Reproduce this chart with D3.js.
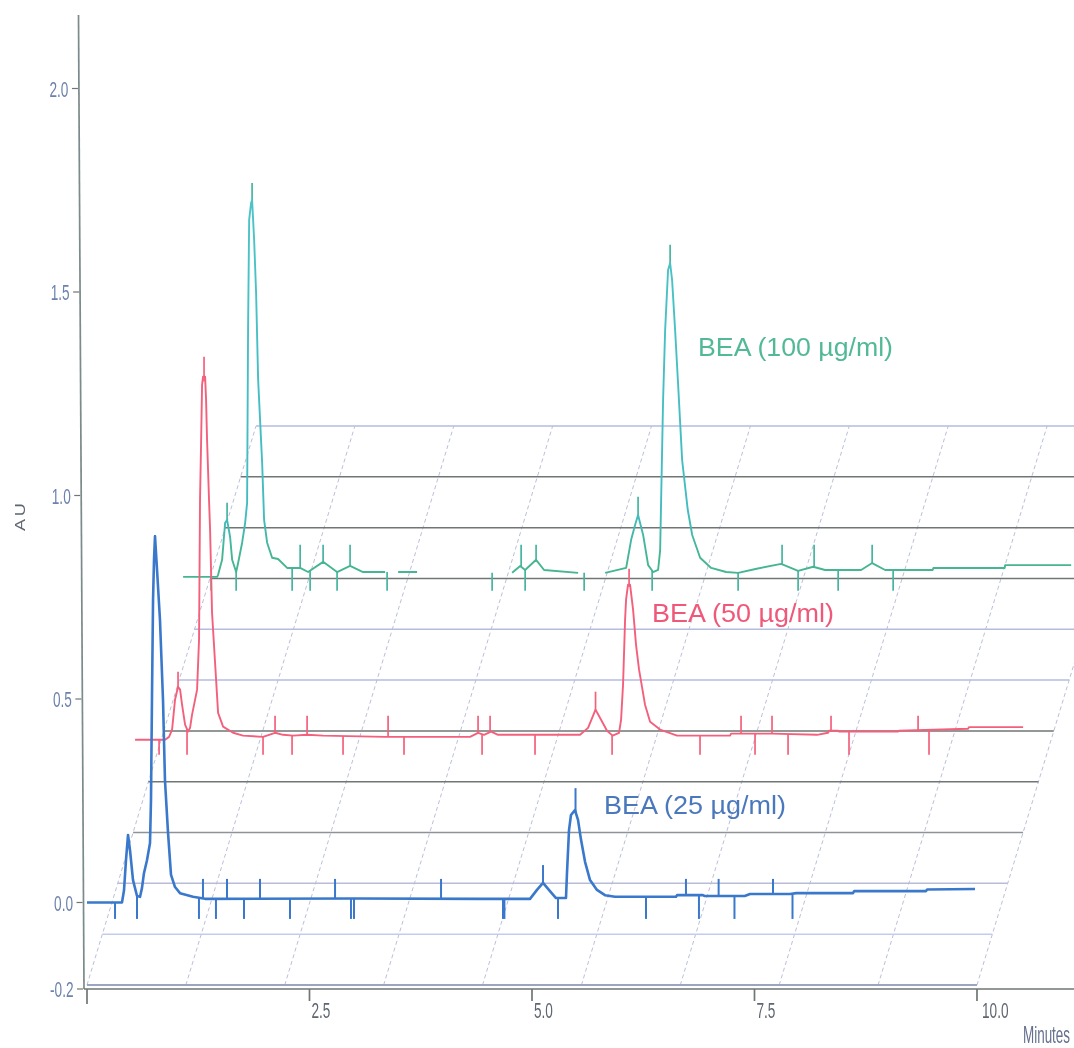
<!DOCTYPE html>
<html><head><meta charset="utf-8">
<script src="https://cdn.jsdelivr.net/npm/d3@7"></script>
<style>html,body{margin:0;padding:0;background:#fff}svg{display:block;filter:blur(0.35px)}text{font-family:"Liberation Sans",Arial,sans-serif}</style>
</head><body><svg id="chart" width="1074" height="1048"></svg>
<script>
// ---- Axis ticks
const yTicks = [-0.2, 0.0, 0.5, 1.0, 1.5, 2.0];
const xTicks = [0, 2.5, 5.0, 7.5, 10.0];
const xTickLabels = ["", "2.5", "5.0", "7.5", "10.0"];

// ---- Series names and their offset in the stacked view (minutes, AU)
const seriesNames = ["BEA (25 µg/ml)", "BEA (50 µg/ml)", "BEA (100 µg/ml)"];
const offsetMinutes = [0, 0.54, 1.08];
const offsetAU = [0, 0.4, 0.8];

// ---- Trace values: [minutes, AU]; null marks a gap in the recording
const blueTrace = [[0,0],[.393,0],[.416,.03],[.438,.104],[.461,.166],[.483,.129],[.517,.055],[.562,.016],[.596,.014],[.618,.036],[.64,.072],[.674,.104],[.708,.146],[.719,.252],[.73,.498],[.742,.743],[.753,.842],[.764,.9],[.787,.817],[.82,.694],[.854,.498],[.876,.301],[.91,.173],[.944,.068],[.989,.038],[1.045,.023],[1.191,.014],[1.326,.009],[3.0,.01],[4.416,.009],[4.978,.009],[5.056,.031],[5.124,.048],[5.202,.028],[5.27,.011],[5.382,.011],[5.393,.072],[5.416,.178],[5.438,.215],[5.483,.227],[5.517,.203],[5.551,.154],[5.596,.1],[5.652,.055],[5.73,.031],[5.82,.018],[5.933,.014],[6.618,.014],[6.63,.018],[6.92,.018],[6.94,.016],[7.39,.016],[7.45,.021],[7.9,.021],[7.97,.023],[8.607,.023],[8.62,.028],[9.427,.028],[9.44,.032],[9.978,.033]];
const redTrace = [[0,0],[.337,0],[.382,.007],[.416,.025],[.449,.098],[.483,.13],[.506,.123],[.528,.086],[.562,.037],[.596,.02],[.618,.029],[.64,.061],[.674,.098],[.697,.123],[.719,.246],[.73,.59],[.742,.73],[.753,.872],[.764,.892],[.787,.892],[.798,.835],[.809,.737],[.831,.59],[.843,.516],[.865,.312],[.899,.189],[.933,.066],[.989,.032],[1.101,.017],[1.213,.01],[1.438,.007],[1.573,.017],[1.663,.012],[1.775,.01],[1.933,.012],[2.112,.01],[2.809,.007],[3.764,.007],[3.854,.017],[3.921,.012],[4.0,.02],[4.079,.012],[5.0,.012],[5.09,.029],[5.174,.074],[5.236,.049],[5.303,.022],[5.366,.01],[5.438,.017],[5.461,.049],[5.483,.135],[5.506,.295],[5.517,.344],[5.539,.381],[5.562,.381],[5.596,.319],[5.629,.233],[5.663,.172],[5.73,.086],[5.787,.044],[5.899,.025],[6.09,.01],[6.685,.01],[6.697,.015],[7.157,.015],[7.663,.012],[7.787,.017],[7.798,.022],[7.899,.022],[7.91,.02],[8.573,.02],[8.584,.022],[9.36,.027],[9.371,.031],[9.978,.031]];
const greenTrace = [[0,0],[.382,0],[.393,.005],[.438,.042],[.472,.133],[.494,.14],[.528,.098],[.551,.042],[.596,.012],[.618,.034],[.663,.084],[.697,.133],[.719,.182],[.73,.614],[.742,.877],[.764,.919],[.775,.926],[.798,.828],[.82,.698],[.843,.484],[.888,.28],[.91,.14],[.944,.084],[1.0,.047],[1.067,.044],[1.169,.022],[1.315,.022],[1.404,.012],[1.573,.037],[1.73,.012],[1.876,.027],[2.022,.012],[2.27,.012],null,[2.416,.012],[2.629,.012],null,[3.697,.01],[3.787,.027],[3.843,.017],[3.966,.042],[4.056,.017],[4.438,.01],null,[4.742,.01],[4.978,.022],[5.034,.091],[5.079,.128],[5.112,.152],[5.169,.103],[5.225,.029],[5.281,.012],[5.337,.017],[5.36,.066],[5.371,.189],[5.393,.435],[5.416,.607],[5.449,.754],[5.472,.771],[5.494,.73],[5.528,.607],[5.562,.472],[5.607,.287],[5.67,.165],[5.72,.103],[5.809,.047],[5.933,.022],[6.101,.012],[6.236,.01],[6.444,.02],[6.719,.032],[6.91,.015],[7.079,.025],[7.213,.017],[7.618,.017],[7.742,.034],[7.888,.017],[8.422,.017],[8.43,.022],[9.232,.022],[9.236,.029],[9.978,.029]];

// ---- Integration event marks (minutes)
const blueDown = [.315,.562,1.258,1.449,1.764,2.281,2.966,3.0,4.674,4.69,5.292,6.281,6.876,7.275,7.927];
const blueUp = [1.303,1.573,1.944,2.787,3.978,6.73,7.097,7.708];
const redDown = [.27,.584,1.438,1.764,2.337,3.022,3.899,4.494,5.36,6.348,6.966,7.337,8.022,8.921];
const redUp = [1.573,1.933,2.843,3.854,3.989,6.809,7.157,7.82,8.798];
const greenDown = [.315,.596,1.225,1.427,1.73,2.292,3.472,3.843,4.506,5.27,6.236,6.91,7.36,7.978];
const greenUp = [1.315,1.573,1.876,3.798,3.966,6.73,7.09,7.742];
// Mark heights (AU): how far the marks reach below and above each baseline
const downDepth = [-.038, -.037, -.034];
const upHeight = [.058, .059, .079];
// Spikes at peak apexes: [minutes, from AU, to AU]
const blueSpikes = [[.764,.88,.903],[5.124,.045,.092],[5.489,.22,.281]];
const redSpikes = [[.483,.125,.167],[.775,.88,.941],[5.174,.07,.118],[5.551,.375,.42]];
const greenSpikes = [[.494,.135,.182],[.775,.91,.968],[5.112,.15,.197],[5.472,.765,.816]];

// ---- Grid: floor lines and their colours (front to back)
const floorLevels = d3.range(12);
const floorColours = ["#9aa6c0","#c3cbee","#b9bcd6","#8d9499","#6f7674","#6f7674","#b4bde0","#b4bde0","#6f7674","#6f7674","#6f7674","#b4bde0"];
const slantMinutes = d3.range(10).map(i => i * 10 / 9);

const traces = [blueTrace, redTrace, greenTrace];
const downs = [blueDown, redDown, greenDown];
const ups = [blueUp, redUp, greenUp];
const spikes = [blueSpikes, redSpikes, greenSpikes];
const colours = ["#3a78cc", "#f4607c", "url(#greenPeak)"];
const markColours = ["#3a78cc", "#f4607c", "#45b5a0"];
const labelColours = ["#4a78bc", "#f0587a", "#52b998"];
const lineWidths = [2.6, 1.9, 1.9];
const markWidths = [2.0, 1.7, 1.7];

const svg = d3.select("#chart");
const x = d3.scaleLinear().domain([0, 11.09]).range([87, 1074]);
const y = d3.scaleLinear().domain([-0.2, 0, 2]).range([989, 902.5, 88.5]);
const depthX = d3.scaleLinear().domain([0, 11]).range([0, 169]);
const depthY = d3.scaleLinear().domain([0, 11]).range([985, 426]);

const grad = svg.append("defs").append("linearGradient").attr("id", "greenPeak")
  .attr("gradientUnits", "userSpaceOnUse").attr("x1", 0).attr("x2", 0)
  .attr("y1", y(1.8)).attr("y2", y(0.8));
grad.append("stop").attr("offset", 0).attr("stop-color", "#4cc4c8");
grad.append("stop").attr("offset", 0.84).attr("stop-color", "#42bcc0");
grad.append("stop").attr("offset", 0.95).attr("stop-color", "#45b592");

svg.append("rect").attr("width", 1074).attr("height", 1048).attr("fill", "#fff");
const plot = svg.append("g");

// Floor grid
plot.append("g").selectAll("line").data(slantMinutes).join("line")
  .attr("x1", d => x(d)).attr("y1", depthY(0))
  .attr("x2", d => x(d) + depthX(11)).attr("y2", depthY(11))
  .attr("stroke", "#b2b8d4").attr("stroke-width", 0.9).attr("stroke-dasharray", "4 3");
plot.append("g").selectAll("line").data(floorLevels).join("line")
  .attr("x1", d => x(0) + depthX(d)).attr("x2", d => x(10) + depthX(d))
  .attr("y1", d => depthY(d)).attr("y2", d => depthY(d))
  .attr("stroke", (d, i) => floorColours[i])
  .attr("stroke-width", d => d === 0 ? 2 : 1.5);

// Axes
const scaleX = 0.62;
const axisG = svg.append("g");
axisG.append("line").attr("x1", 78.5).attr("y1", 15).attr("x2", 84).attr("y2", y(-0.2))
  .attr("stroke", "#7b8a8a").attr("stroke-width", 1.7);
axisG.append("line").attr("x1", 84).attr("x2", 1074).attr("y1", y(-0.2)).attr("y2", y(-0.2))
  .attr("stroke", "#6f7674").attr("stroke-width", 1.7);
axisG.selectAll(".yt").data(yTicks).join("line").attr("class", "yt")
  .attr("x1", d => 77 - (y(-0.2) - y(d)) * 0.0056).attr("x2", d => 83 - (y(-0.2) - y(d)) * 0.0056)
  .attr("y1", d => y(d)).attr("y2", d => y(d))
  .attr("stroke", "#6f7674").attr("stroke-width", 1.2);
axisG.selectAll(".yl").data(yTicks).join("text").attr("class", "yl")
  .attr("transform", d => `translate(${73.5 - (y(-0.2) - y(d)) * 0.0056},${y(d) + 8}) scale(${scaleX},1)`)
  .attr("text-anchor", "end").attr("font-size", 22).attr("fill", "#6c82ad")
  .text(d => d.toFixed(1));
axisG.selectAll(".xt").data(xTicks).join("line").attr("class", "xt")
  .attr("x1", d => x(d)).attr("x2", d => x(d)).attr("y1", y(-0.2))
  .attr("y2", d => d === 0 ? 1004 : 1001)
  .attr("stroke", "#6f7674").attr("stroke-width", 1.7);
axisG.selectAll(".xl").data(xTicks).join("text").attr("class", "xl")
  .attr("transform", d => `translate(${x(d) + (d === 10 ? 5 : 2)},1018) scale(${scaleX},1)`)
  .attr("font-size", 22).attr("fill", "#5f6670")
  .text((d, i) => xTickLabels[i]);
svg.append("text").attr("transform", "translate(1023,1043) scale(0.56,1)").attr("font-size", 24)
  .attr("fill", "#66708e").text("Minutes");
svg.append("text").attr("transform", "translate(25,531) rotate(-90) scale(1.3,1)").attr("font-size", 14)
  .attr("fill", "#5f6670").attr("letter-spacing", 2).text("AU");

// Traces, back to front
const order = [2, 1, 0];
order.forEach(i => {
  const ox = offsetMinutes[i], oa = offsetAU[i];
  const px = m => x(m + ox), py = a => y(a + oa);
  const known = traces[i].filter(d => d !== null);
  const traceAt = d3.scaleLinear().domain(known.map(d => d[0])).range(known.map(d => d[1]));
  const g = svg.append("g");
  g.selectAll(".d").data(downs[i]).join("line").attr("class", "d")
    .attr("x1", px).attr("x2", px).attr("y1", d => py(traceAt(d))).attr("y2", py(downDepth[i]))
    .attr("stroke", markColours[i]).attr("stroke-width", markWidths[i]);
  g.selectAll(".u").data(ups[i]).join("line").attr("class", "u")
    .attr("x1", px).attr("x2", px).attr("y1", d => py(traceAt(d))).attr("y2", py(upHeight[i]))
    .attr("stroke", markColours[i]).attr("stroke-width", markWidths[i]);
  g.selectAll(".s").data(spikes[i]).join("line").attr("class", "s")
    .attr("x1", d => px(d[0])).attr("x2", d => px(d[0]))
    .attr("y1", d => py(d[1])).attr("y2", d => py(d[2]))
    .attr("stroke", markColours[i]).attr("stroke-width", markWidths[i]);
  const line = d3.line().defined(d => d !== null).x(d => px(d[0])).y(d => py(d[1])).curve(d3.curveLinear);
  g.append("path").datum(traces[i]).attr("d", line).attr("fill", "none")
    .attr("stroke", colours[i]).attr("stroke-width", lineWidths[i]).attr("stroke-linejoin", "round");
});

// Labels
const labelAt = [[604, 814], [652, 622], [698, 356]];
const labelWidths = [182, 182, 195];
labelAt.forEach((p, i) => {
  svg.append("text").attr("x", p[0]).attr("y", p[1]).attr("font-size", 26)
    .attr("textLength", labelWidths[i]).attr("lengthAdjust", "spacingAndGlyphs")
    .attr("fill", labelColours[i]).text(seriesNames[i]);
});
</script></body></html>
